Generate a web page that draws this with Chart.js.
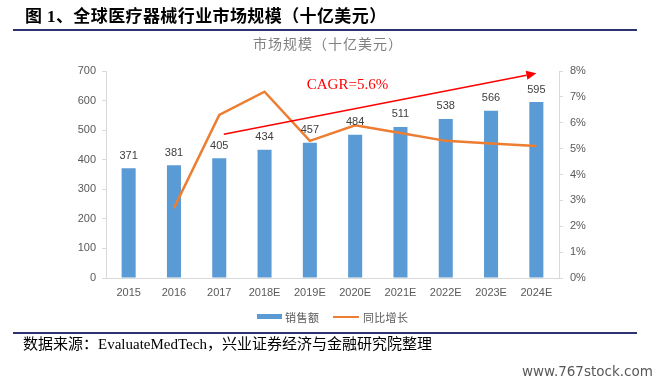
<!DOCTYPE html>
<html>
<head>
<meta charset="utf-8">
<script src="https://cdn.jsdelivr.net/npm/chart.js@4"></script>
<style>
  html, body { margin:0; padding:0; background:#fff; }
  #wrap { position:relative; width:661px; height:382px; overflow:hidden; }
  #c { position:absolute; left:0; top:0; }
  .abs { position:absolute; white-space:nowrap; }
  #title { left:25px; top:6px; line-height:22px; font-size:17px; font-weight:bold; color:#000;
           font-family:"Liberation Serif","Noto Sans CJK SC",serif; letter-spacing:0.4px; }
  .rule { position:absolute; left:13px; width:624px; height:2px; background:#2f3272; }
  #ctitle { left:253px; top:34px; line-height:18px; font-size:14px; color:#808080;
            font-family:"Noto Sans CJK SC",sans-serif; letter-spacing:1px; }
  #legend { left:257px; top:309px; height:16px; font-size:11px; color:#595959;
            font-family:"Noto Sans CJK SC",sans-serif; }
  #legend span { position:absolute; top:0; line-height:16px; }
  #source { left:23px; top:334px; line-height:20px; font-size:15px; color:#000;
            font-family:"Liberation Serif","Noto Sans CJK SC",serif; }
  #wm { left:522px; top:362px; line-height:18px; font-size:13.5px; color:#595959;
        font-family:"DejaVu Sans",sans-serif; }
</style>
</head>
<body>
<div id="wrap">
  <canvas id="c" width="661" height="382"></canvas>
  <div id="title" class="abs">图 1、全球医疗器械行业市场规模（十亿美元）</div>
  <div class="rule" style="top:29px"></div>
  <div id="ctitle" class="abs">市场规模（十亿美元）</div>
  <div id="legend" class="abs">
    <span style="left:0;top:5px;width:25px;height:5px;background:#5B9BD5;"></span>
    <span style="left:28px;letter-spacing:0.5px;">销售额</span>
    <span style="left:76px;top:7px;width:26px;height:2px;background:#ED7D31;"></span>
    <span style="left:106px;letter-spacing:0.3px;">同比增长</span>
  </div>
  <div class="rule" style="top:332px"></div>
  <div id="source" class="abs">数据来源：EvaluateMedTech，兴业证券经济与金融研究院整理</div>
  <div id="wm" class="abs">www.767stock.com</div>
</div>
<script>
// ---- data ----
const categories = ['2015','2016','2017','2018E','2019E','2020E','2021E','2022E','2023E','2024E'];
const sales = [371, 381, 405, 434, 457, 484, 511, 538, 566, 595];
const growth = [null, 2.7, 6.3, 7.2, 5.3, 5.9, 5.6, 5.3, 5.2, 5.1];
const leftTicks = [0, 100, 200, 300, 400, 500, 600, 700];
const rightTicks = [0, 1, 2, 3, 4, 5, 6, 7, 8];
const cagrText = 'CAGR=5.6%';
const cagrLine = [{x: 2.1, y: 486}, {x: 9.0, y: 692}];   // in (category index, left value)
const cagrTextPos = {x: 4.83, y: 652};

const labelFont = '11px "Liberation Sans", Arial, sans-serif';

const overlay = {
  id: 'overlay',
  afterDatasetsDraw(chart) {
    const ctx = chart.ctx;
    const xs = chart.scales.x, ys = chart.scales.y;
    // bar value labels
    const barIndex = chart.data.datasets.findIndex(d => d.type === 'bar');
    const meta = chart.getDatasetMeta(barIndex);
    ctx.save();
    ctx.font = labelFont;
    ctx.fillStyle = '#404040';
    ctx.textAlign = 'center';
    ctx.textBaseline = 'bottom';
    meta.data.forEach((el, i) => {
      ctx.fillText(String(sales[i]), el.x, el.y - 7);
    });
    // CAGR arrow
    const x0 = xs.getPixelForValue(cagrLine[0].x), y0 = ys.getPixelForValue(cagrLine[0].y);
    const x1 = xs.getPixelForValue(cagrLine[1].x), y1 = ys.getPixelForValue(cagrLine[1].y);
    const ang = Math.atan2(y1 - y0, x1 - x0);
    const head = 10, hw = 4.5;
    const bx = x1 - head * Math.cos(ang), by = y1 - head * Math.sin(ang);
    ctx.strokeStyle = '#FF0000';
    ctx.fillStyle = '#FF0000';
    ctx.lineWidth = 1.5;
    ctx.beginPath();
    ctx.moveTo(x0, y0);
    ctx.lineTo(bx, by);
    ctx.stroke();
    ctx.beginPath();
    ctx.moveTo(x1, y1);
    ctx.lineTo(bx + hw * Math.sin(ang), by - hw * Math.cos(ang));
    ctx.lineTo(bx - hw * Math.sin(ang), by + hw * Math.cos(ang));
    ctx.closePath();
    ctx.fill();
    // CAGR text
    ctx.font = '15px "Liberation Serif", "Times New Roman", serif';
    ctx.textBaseline = 'middle';
    ctx.textAlign = 'center';
    ctx.fillText(cagrText, xs.getPixelForValue(cagrTextPos.x), ys.getPixelForValue(cagrTextPos.y));
    ctx.restore();
  }
};

new Chart(document.getElementById('c'), {
  data: {
    labels: categories,
    datasets: [
      {
        type: 'line',
        label: '同比增长',
        data: growth,
        yAxisID: 'y1',
        borderColor: '#ED7D31',
        borderWidth: 2.5,
        pointRadius: 0,
        tension: 0,
        fill: false,
        order: 0
      },
      {
        type: 'bar',
        label: '销售额',
        data: sales,
        yAxisID: 'y',
        backgroundColor: '#5B9BD5',
        borderWidth: 0,
        categoryPercentage: 1.0,
        barPercentage: 0.31,
        order: 1
      }
    ]
  },
  options: {
    responsive: false,
    devicePixelRatio: 1,
    animation: false,
    layout: { padding: { top: 71, left: 0, right: 0, bottom: 0 } },
    plugins: { legend: { display: false }, title: { display: false }, tooltip: { enabled: false } },
    scales: {
      x: {
        type: 'category',
        grid: { display: false, drawTicks: false },
        border: { display: true, color: '#d9d9d9', width: 1 },
        ticks: { color: '#595959', font: { family: '"Liberation Sans", Arial, sans-serif', size: 11 }, padding: 8, maxRotation: 0, autoSkip: false },
        afterFit(s) { s.height = 104; }
      },
      y: {
        type: 'linear',
        position: 'left',
        min: 0, max: 700,
        afterBuildTicks(s) { s.ticks = leftTicks.map(v => ({ value: v })); },
        grid: { drawOnChartArea: false, drawTicks: true, tickLength: 4, color: '#d9d9d9' },
        border: { display: true, color: '#d9d9d9', width: 1 },
        ticks: { color: '#595959', font: { family: '"Liberation Sans", Arial, sans-serif', size: 11 }, padding: 6 },
        afterFit(s) { s.width = 106; }
      },
      y1: {
        type: 'linear',
        position: 'right',
        min: 0, max: 8,
        afterBuildTicks(s) { s.ticks = rightTicks.map(v => ({ value: v })); },
        grid: { drawOnChartArea: false, drawTicks: true, tickLength: 4, color: '#d9d9d9' },
        border: { display: true, color: '#d9d9d9', width: 1 },
        ticks: { color: '#595959', font: { family: '"Liberation Sans", Arial, sans-serif', size: 11 }, padding: 7, callback: v => v + '%' },
        afterFit(s) { s.width = 102; }
      }
    }
  },
  plugins: [overlay]
});
</script>
</body>
</html>
